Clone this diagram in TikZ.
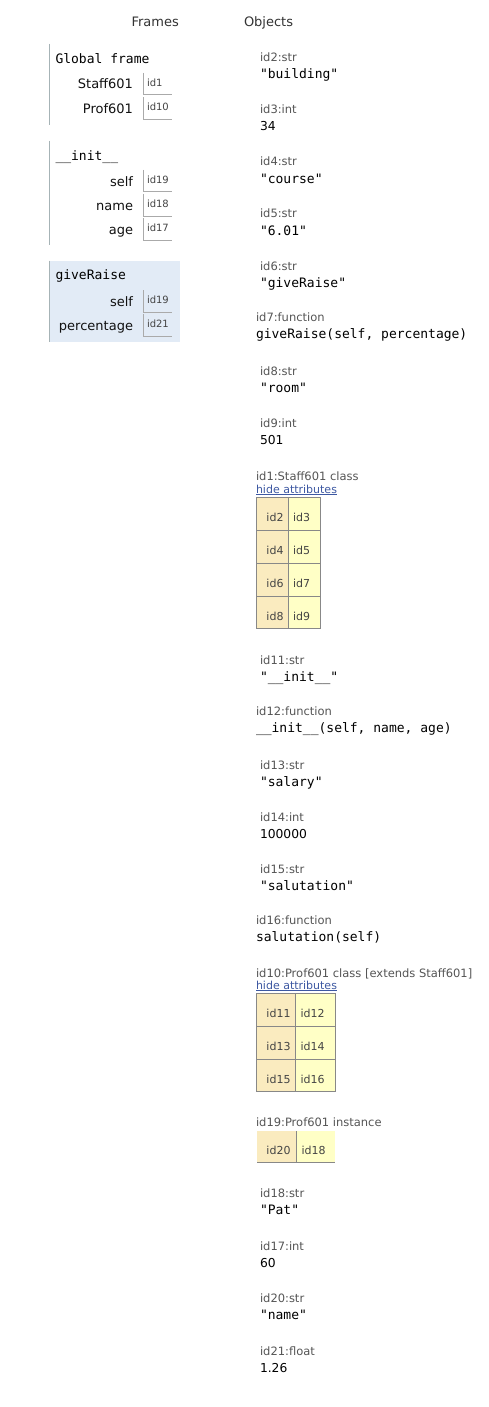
\documentclass[tikz,border=0pt]{standalone}
\usepackage{fontspec}
\setmainfont{DejaVu Sans}
\setmonofont{DejaVu Sans Mono}
\definecolor{hdrc}{HTML}{333333}
\definecolor{namec}{HTML}{111111}
\definecolor{fidc}{HTML}{444444}
\definecolor{lblc}{HTML}{555555}
\definecolor{linkc}{HTML}{3D58A2}
\definecolor{framec}{HTML}{A6B3B6}
\definecolor{fboxc}{HTML}{AAAAAA}
\definecolor{tblc}{HTML}{888888}
\definecolor{keyc}{HTML}{FAEBBF}
\definecolor{valc}{HTML}{FFFFC6}
\definecolor{hilc}{HTML}{E2EBF6}
\definecolor{celltc}{HTML}{444444}
\tikzset{
  every node/.style={inner sep=0pt, outer sep=0pt},
  hdrtxt/.style={anchor=base west, font=\fontsize{13}{15}\selectfont, text=hdrc},
  ftitle/.style={anchor=base west, font=\ttfamily\fontsize{13}{15}\selectfont, text=black},
  vname/.style={anchor=base east, font=\fontsize{13}{15}\selectfont, text=namec},
  fid/.style={anchor=base west, font=\fontsize{10}{12}\selectfont, text=fidc},
  tlabel/.style={anchor=base west, font=\fontsize{11.5}{13}\selectfont, text=lblc},
  strval/.style={anchor=base west, font=\ttfamily\fontsize{13}{15}\selectfont, text=black},
  numval/.style={anchor=base west, font=\fontsize{12.3}{14}\selectfont, text=black},
  linktxt/.style={anchor=base west, font=\fontsize{11}{13}\selectfont, text=linkc},
  keytxt/.style={anchor=base east, font=\fontsize{11}{13}\selectfont, text=celltc},
  valtxt/.style={anchor=base west, font=\fontsize{11}{13}\selectfont, text=celltc},
  frameline/.style={draw=framec, line width=1pt},
  fboxline/.style={draw=fboxc, line width=1pt},
  tblline/.style={draw=tblc, line width=1pt},
}
\newcommand{\FrRow}[4]{%
  \node[vname] (#1-n) at (133,{#4+16}) {#2};
  \node[fid] (#1-v) at (147,{#4+13.5}) {#3};
  \draw[fboxline] (143.5,#4) -- (143.5,{#4+22}) -- (172,{#4+22});
}
\newcommand{\ObjStr}[4]{%
  \node[tlabel] (#1-t) at (260,#4) {#2};
  \node[strval] (#1-v) at (260,{#4+17}) {#3};
}
\newcommand{\ObjNum}[4]{%
  \node[tlabel] (#1-t) at (260,#4) {#2};
  \node[numval] (#1-v) at (260,{#4+17}) {#3};
}
\newcommand{\ObjFun}[4]{%
  \node[tlabel] (#1-t) at (256,#4) {#2};
  \node[strval] (#1-v) at (256,{#4+17}) {#3};
}
\begin{document}
\begin{tikzpicture}[x=1pt,y=-1pt]
\useasboundingbox[fill=white] (0,0) rectangle (488,1407);

% headers
\node[hdrtxt] (hframes) at (131.5,27) {Frames};
\node[hdrtxt] (hobjects) at (244,27) {Objects};

% Global frame
\draw[frameline] (49.5,44) -- (49.5,125);
\node[ftitle] (gtitle) at (55.5,63.5) {Global frame};
\FrRow{gs}{Staff601}{id1}{73}
\FrRow{gp}{Prof601}{id10}{97.5}

% __init__ frame
\draw[frameline] (49.5,141) -- (49.5,245);
\node[ftitle] (ititle) at (55.5,160.5) {\_\_init\_\_};
\FrRow{is}{self}{id19}{170}
\FrRow{in}{name}{id18}{194}
\FrRow{ia}{age}{id17}{218}

% giveRaise frame (highlighted)
\fill[hilc] (49,260.5) rectangle (180,342);
\draw[frameline] (49.5,260.5) -- (49.5,342);
\node[ftitle] (rtitle) at (55.5,279) {giveRaise};
\FrRow{rs}{self}{id19}{290}
\FrRow{rp}{percentage}{id21}{314}

% objects
\ObjStr{o2}{id2:str}{"building"}{62}
\ObjNum{o3}{id3:int}{34}{114}
\ObjStr{o4}{id4:str}{"course"}{166}
\ObjStr{o5}{id5:str}{"6.01"}{218}
\ObjStr{o6}{id6:str}{"giveRaise"}{270}
\ObjFun{o7}{id7:function}{giveRaise(self, percentage)}{321}
\ObjStr{o8}{id8:str}{"room"}{375}
\ObjNum{o9}{id9:int}{501}{427}

% Staff601 class
\node[tlabel] (c1-t) at (256,480) {id1:Staff601 class};
\node[linktxt] (c1-h) at (256,493) {hide attributes};
\draw[linkc, line width=0.8pt] ([yshift=-1.8pt]c1-h.base west) -- ([yshift=-1.8pt]c1-h.base east);
\fill[keyc] (256.5,497.5) rectangle (288.5,628.5);
\fill[valc] (288.5,497.5) rectangle (320.5,628.5);
\draw[tblline] (256.5,497.5) rectangle (320.5,628.5);
\draw[tblline] (288.5,497.5) -- (288.5,628.5);
\foreach \yy in {530.5,563.5,596.5} {\draw[tblline] (256.5,\yy) -- (320.5,\yy);}
\node[keytxt] (c1k1) at (283.5,521) {id2}; \node[valtxt] (c1v1) at (293,521) {id3};
\node[keytxt] (c1k2) at (283.5,554) {id4}; \node[valtxt] (c1v2) at (293,554) {id5};
\node[keytxt] (c1k3) at (283.5,587) {id6}; \node[valtxt] (c1v3) at (293,587) {id7};
\node[keytxt] (c1k4) at (283.5,620) {id8}; \node[valtxt] (c1v4) at (293,620) {id9};

\ObjStr{o11}{id11:str}{"\_\_init\_\_"}{664}
\ObjFun{o12}{id12:function}{\_\_init\_\_(self, name, age)}{715}
\ObjStr{o13}{id13:str}{"salary"}{769}
\ObjNum{o14}{id14:int}{100000}{821}
\ObjStr{o15}{id15:str}{"salutation"}{873}
\ObjFun{o16}{id16:function}{salutation(self)}{924}

% Prof601 class
\node[tlabel] (c2-t) at (256,977) {id10:Prof601 class [extends Staff601]};
\node[linktxt] (c2-h) at (256,989) {hide attributes};
\draw[linkc, line width=0.8pt] ([yshift=-1.8pt]c2-h.base west) -- ([yshift=-1.8pt]c2-h.base east);
\fill[keyc] (256.5,993.5) rectangle (295.5,1091.5);
\fill[valc] (295.5,993.5) rectangle (335.5,1091.5);
\draw[tblline] (256.5,993.5) rectangle (335.5,1091.5);
\draw[tblline] (295.5,993.5) -- (295.5,1091.5);
\foreach \yy in {1026.5,1059.5} {\draw[tblline] (256.5,\yy) -- (335.5,\yy);}
\node[keytxt] (c2k1) at (290.5,1017) {id11}; \node[valtxt] (c2v1) at (300.5,1017) {id12};
\node[keytxt] (c2k2) at (290.5,1050) {id13}; \node[valtxt] (c2v2) at (300.5,1050) {id14};
\node[keytxt] (c2k3) at (290.5,1083) {id15}; \node[valtxt] (c2v3) at (300.5,1083) {id16};

% Prof601 instance
\node[tlabel] (i19-t) at (256,1126) {id19:Prof601 instance};
\fill[keyc] (257,1131) rectangle (296,1163);
\fill[valc] (296,1131) rectangle (335,1163);
\draw[tblline] (257,1162.5) -- (335,1162.5);
\draw[tblline] (296.5,1131) -- (296.5,1163);
\node[keytxt] (i19k) at (290.5,1154) {id20};
\node[valtxt] (i19v) at (301.5,1154) {id18};

\ObjStr{o18}{id18:str}{"Pat"}{1197}
\ObjNum{o17}{id17:int}{60}{1250}
\ObjStr{o20}{id20:str}{"name"}{1302}
\ObjNum{o21}{id21:float}{1.26}{1355}
\end{tikzpicture}
\end{document}
